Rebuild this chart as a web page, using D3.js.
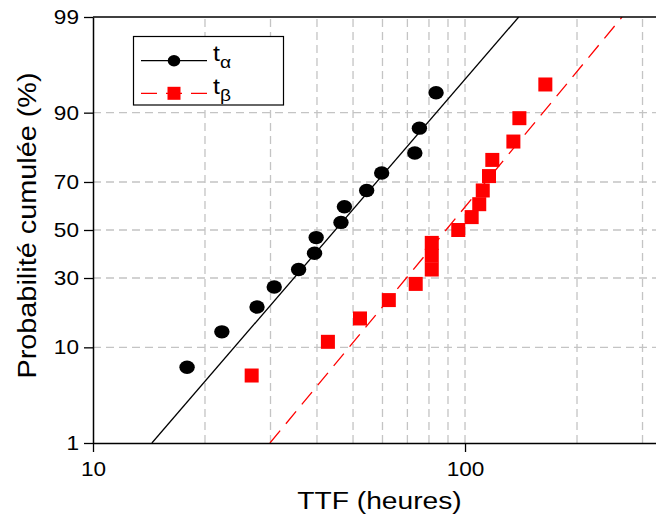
<!DOCTYPE html>
<html>
<head>
<meta charset="utf-8">
<script src="https://cdn.jsdelivr.net/npm/d3@7"></script>
<style>
  html, body { margin: 0; padding: 0; background: #fff; }
  svg { display: block; font-family: "Liberation Sans", Arial, sans-serif; }
</style>
</head>
<body>
<svg id="chart" width="656" height="517"></svg>
<script>
// ---------- data ----------
const seriesNames = ["t\u03B1", "t\u03B2"];
const ttfAlpha = [17.9, 22.2, 27.6, 30.7, 35.7, 39.4, 39.8, 46.4, 47.4, 54.4, 59.7, 73.3, 75.4, 83.6];
const probAlpha = [6.7, 13.3, 20.0, 26.7, 33.3, 40.0, 46.7, 53.3, 60.0, 66.7, 73.3, 80.0, 86.7, 93.3];
const ttfBeta = [26.7, 42.8, 52.2, 62.4, 73.7, 81.4, 81.4, 81.4, 95.9, 104.2, 109.2, 111.6, 116.0, 118.4, 134.9, 140.0, 164.4];
const probBeta = [5.6, 11.1, 16.7, 22.2, 27.8, 33.3, 38.9, 44.4, 50.0, 55.6, 61.1, 66.7, 72.2, 77.8, 83.3, 88.9, 94.4];
// fitted lines: TTF at the two probability ends
const fitProb = [1, 99];
const fitAlpha = [14.4, 139.4];
const fitBeta = [29.9, 264.3];
// ticks
const xTickValues = [10, 100];
const xGridValues = [20, 30, 40, 50, 60, 70, 80, 90, 100, 200, 300];
const yTickValues = [1, 10, 30, 50, 70, 90, 99];
const yGridValues = [10, 30, 50, 70, 90];

// ---------- probit (inverse normal CDF) ----------
function probit(p) {
  const a=[-3.969683028665376e+01,2.209460984245205e+02,-2.759285104469687e+02,1.383577518672690e+02,-3.066479806614716e+01,2.506628277459239e+00];
  const b=[-5.447609879822406e+01,1.615858368580409e+02,-1.556989798598866e+02,6.680131188771972e+01,-1.328068155288572e+01];
  const c=[-7.784894002430293e-03,-3.223964580411365e-01,-2.400758277161838e+00,-2.549671010173244e+00,4.374664141464968e+00,2.938163982698783e+00];
  const d=[7.784695709041462e-03,3.224671290700398e-01,2.445134137142996e+00,3.754408661907416e+00];
  const pl = 0.02425, ph = 1 - pl;
  let q, r;
  if (p < pl) {
    q = Math.sqrt(-2 * Math.log(p));
    return (((((c[0]*q+c[1])*q+c[2])*q+c[3])*q+c[4])*q+c[5]) / ((((d[0]*q+d[1])*q+d[2])*q+d[3])*q+1);
  }
  if (p <= ph) {
    q = p - 0.5; r = q * q;
    return (((((a[0]*r+a[1])*r+a[2])*r+a[3])*r+a[4])*r+a[5])*q / (((((b[0]*r+b[1])*r+b[2])*r+b[3])*r+b[4])*r+1);
  }
  q = Math.sqrt(-2 * Math.log(1 - p));
  return -(((((c[0]*q+c[1])*q+c[2])*q+c[3])*q+c[4])*q+c[5]) / ((((d[0]*q+d[1])*q+d[2])*q+d[3])*q+1);
}
const zOf = pct => probit(pct / 100);

// ---------- layout ----------
const mLeft = 93, mTop = 17, mBottom = 443, mRight = 689;
const svg = d3.select("#chart");

const x = d3.scaleLog().domain([10, 400]).range([mLeft, mRight]);
const y = d3.scaleLinear().domain([zOf(1), zOf(99)]).range([mBottom, mTop]);

// clip
svg.append("defs").append("clipPath").attr("id", "plotClip")
  .append("rect").attr("x", mLeft).attr("y", mTop).attr("width", mRight - mLeft).attr("height", mBottom - mTop);

// ---------- grid ----------
const grid = svg.append("g").attr("stroke", "#c4c4c4").attr("stroke-width", 1.3)
  .attr("stroke-dasharray", "8,5").attr("fill", "none");
grid.selectAll("line.vx").data(xGridValues).join("line").attr("class", "vx")
  .attr("x1", d => x(d)).attr("x2", d => x(d)).attr("y1", mBottom).attr("y2", mTop);
grid.selectAll("line.hy").data(yGridValues).join("line").attr("class", "hy")
  .attr("x1", mLeft).attr("x2", mRight).attr("y1", d => y(zOf(d))).attr("y2", d => y(zOf(d)));

// ---------- fit lines ----------
const plot = svg.append("g").attr("clip-path", "url(#plotClip)");
const lineGen = d3.line().x(d => x(d[0])).y(d => y(zOf(d[1])));
plot.append("path").datum(fitAlpha.map((t, i) => [t, fitProb[i]]))
  .attr("d", lineGen).attr("fill", "none").attr("stroke", "#000").attr("stroke-width", 1.3);
plot.append("path").datum(fitBeta.map((t, i) => [t, fitProb[i]]))
  .attr("d", lineGen).attr("fill", "none").attr("stroke", "#ff0000").attr("stroke-width", 1.3)
  .attr("stroke-dasharray", "16,9");

// ---------- markers ----------
plot.selectAll("ellipse.a").data(ttfAlpha.map((t, i) => [t, probAlpha[i]])).join("ellipse")
  .attr("class", "a").attr("cx", d => x(d[0])).attr("cy", d => y(zOf(d[1])))
  .attr("rx", 7.7).attr("ry", 6.7).attr("fill", "#000");
const sq = 14;
plot.selectAll("rect.b").data(ttfBeta.map((t, i) => [t, probBeta[i]])).join("rect")
  .attr("class", "b").attr("x", d => x(d[0]) - sq / 2).attr("y", d => y(zOf(d[1])) - sq / 2)
  .attr("width", sq).attr("height", sq).attr("fill", "#ff0000");

// ---------- axes ----------
const sx = 1.13;
const xAxis = d3.axisBottom(x).tickValues(xTickValues).tickFormat(d3.format("d"))
  .tickSize(9).tickPadding(9.5).tickSizeOuter(0);
const gx = svg.append("g").attr("transform", `translate(0,${mBottom})`).call(xAxis);
gx.select(".domain").attr("stroke", "#000").attr("stroke-width", 1.5);
gx.selectAll(".tick line").attr("stroke", "#000").attr("stroke-width", 1.3);
gx.selectAll(".tick text").attr("fill", "#000").attr("font-size", 20)
  .attr("font-family", "Liberation Sans, Arial, sans-serif")
  .attr("transform", `scale(${sx},1)`);

const yAxis = d3.axisLeft(y).tickValues(yTickValues.map(zOf))
  .tickFormat((d, i) => String(yTickValues[i])).tickSize(9).tickPadding(5).tickSizeOuter(0);
const gy = svg.append("g").attr("transform", `translate(${mLeft},0)`).call(yAxis);
gy.select(".domain").attr("stroke", "#000").attr("stroke-width", 1.5);
gy.selectAll(".tick line").attr("stroke", "#000").attr("stroke-width", 1.3);
gy.selectAll(".tick text").attr("fill", "#000").attr("font-size", 20)
  .attr("font-family", "Liberation Sans, Arial, sans-serif")
  .attr("x", -14 / sx).attr("transform", `scale(${sx},1)`);

// top frame
svg.append("line").attr("x1", mLeft).attr("x2", mRight).attr("y1", mTop).attr("y2", mTop)
  .attr("stroke", "#000").attr("stroke-width", 1.5);
svg.append("line").attr("x1", mRight).attr("x2", mRight).attr("y1", mTop).attr("y2", mBottom)
  .attr("stroke", "#000").attr("stroke-width", 1.5);

// ---------- titles ----------
svg.append("text").attr("transform", `translate(379.5,508.5) scale(1.15,1)`)
  .attr("text-anchor", "middle").attr("font-size", 24.5).attr("fill", "#000")
  .text("TTF (heures)");
svg.append("text").attr("transform", `translate(35.5,225.5) rotate(-90) scale(1.11,1)`)
  .attr("text-anchor", "middle").attr("font-size", 26).attr("fill", "#000")
  .text("Probabilit\u00E9 cumul\u00E9e (%)");

// ---------- legend ----------
const lg = svg.append("g");
lg.append("rect").attr("x", 133.5).attr("y", 36.5).attr("width", 150).attr("height", 68.5)
  .attr("fill", "#fff").attr("stroke", "#000").attr("stroke-width", 1.2);
const legRows = [60.7, 93.3];
lg.append("line").attr("x1", 141).attr("x2", 207).attr("y1", legRows[0]).attr("y2", legRows[0])
  .attr("stroke", "#000").attr("stroke-width", 1.3);
lg.append("ellipse").attr("cx", 174).attr("cy", legRows[0]).attr("rx", 6.3).attr("ry", 5.7).attr("fill", "#000");
lg.append("line").attr("x1", 141).attr("x2", 207).attr("y1", legRows[1]).attr("y2", legRows[1])
  .attr("stroke", "#ff0000").attr("stroke-width", 1.3).attr("stroke-dasharray", "16,9");
lg.append("rect").attr("x", 167.5).attr("y", legRows[1] - 6.5).attr("width", 13).attr("height", 13).attr("fill", "#ff0000");
const subs = ["\u03B1", "\u03B2"];
legRows.forEach((ry, i) => {
  const t = lg.append("text").attr("transform", `translate(213,${ry + 0.5}) scale(${sx},1)`)
    .attr("font-size", 22).attr("fill", "#000");
  t.append("tspan").text("t");
  t.append("tspan").attr("dy", 7).attr("font-size", 17).text(subs[i]);
});
</script>
</body>
</html>
